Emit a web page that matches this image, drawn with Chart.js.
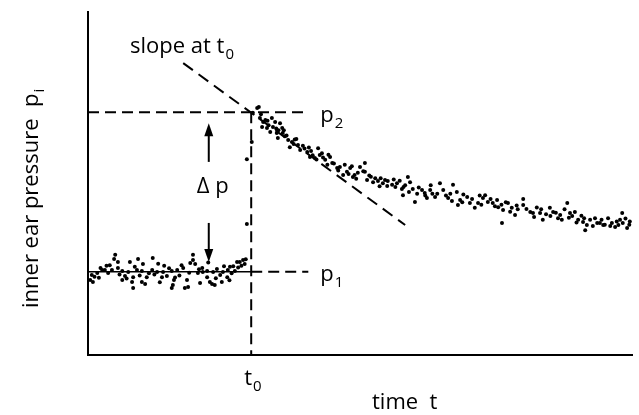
<!DOCTYPE html>
<html lang="en">
<head>
<meta charset="UTF-8" />
<title>Inner ear pressure</title>
<script src="https://cdn.jsdelivr.net/npm/chart.js"></script>
<style>
  html, body { margin: 0; padding: 0; background: #fff; }
  #wrap { width: 639px; height: 415px; }
</style>
</head>
<body>
<div id="wrap"><canvas id="chart" width="639" height="415"></canvas></div>
<script>
// baseline before the step (time, pressure), arbitrary units
const baseT = [0.4, 0.7, 0.9, 1.7, 2.0, 2.6, 3.1, 3.4, 3.7, 4.4, 4.8, 5.0, 5.5, 5.5, 6.3, 6.3, 6.8, 7.4, 7.7, 8.1,
  8.3, 8.3, 9.0, 9.2, 9.9, 9.9, 10.1, 10.5, 10.8, 11.8, 11.9, 12.2, 12.7, 13.6, 13.8, 14.0, 14.5, 15.4, 15.4, 15.6,
  15.8, 16.4, 16.8, 17.5, 17.8, 18.2, 18.4, 18.8, 19.3, 19.3, 19.7, 20.2, 20.6, 21.0, 21.1, 21.9, 21.9, 22.4, 22.8, 23.0,
  23.3, 23.7, 24.3, 24.6, 24.8, 25.6, 25.7, 26.1, 26.4, 26.7, 27.4, 27.9, 28.2, 28.5, 29.0,
  1.2, 2.3, 4.0, 5.8, 7.1, 8.6, 9.5, 11.2, 12.9, 13.2, 14.9, 16.0, 17.2, 18.6, 20.4, 22.1, 23.5, 25.0, 26.0, 27.0,
  27.6, 28.8];
const baseP = [21.9, 23.3, 21.3, 23.9, 22.5, 24.8, 24.8, 26.0, 23.9, 24.8, 28.0, 29.2, 27.1, 25.4, 24.5, 21.9, 23.0, 24.2, 27.1, 21.3,
  22.7, 19.5, 24.8, 28.0, 24.5, 21.3, 26.5, 20.7, 22.7, 24.8, 28.3, 23.5, 24.2, 22.7, 24.2, 26.0, 23.0, 19.5, 24.5, 20.4,
  21.9, 24.8, 23.2, 25.4, 19.5, 21.9, 19.8, 26.8, 29.2, 27.7, 26.5, 23.9, 21.0, 25.4, 24.2, 24.5, 22.7, 21.3, 20.7, 24.2,
  20.4, 25.1, 23.3, 21.3, 24.2, 22.7, 24.8, 25.7, 23.8, 25.9, 27.1, 27.1, 26.0, 27.7, 27.9,
  22.8, 25.4, 26.2, 23.5, 22.3, 25.7, 23.2, 23.8, 26.6, 21.2, 25.3, 22.6, 26.2, 24.0, 25.0, 27.0, 22.4, 25.9, 21.8, 24.5,
  25.5, 26.5];

// the few samples caught during the step
const jumpT = [29.2, 29.2, 30.1];
const jumpP = [38.2, 57.1, 62.1];

// decay after the step
const decayT = [31.1, 31.4, 30.3, 31.6, 32.2, 32.0, 32.9, 33.8, 34.4, 34.0, 35.3, 35.7, 33.5, 34.7, 35.8, 34.9, 36.8, 37.5, 37.1, 38.6,
  39.0, 40.3, 40.8, 42.3, 42.6, 41.7, 43.6, 44.5, 44.9, 45.8, 46.3, 46.9, 47.6, 48.2, 48.7, 49.6, 50.0, 50.9, 51.3, 50.9,
  50.6, 52.4, 53.3, 54.2, 55.1, 55.9, 55.0, 56.8, 58.8, 59.2, 57.7, 57.9, 59.7, 61.4, 61.9, 62.9, 60.1, 62.3, 63.8, 64.7,
  65.3, 66.2, 67.1, 67.8, 68.4, 68.0, 69.7, 70.2, 71.1, 71.7, 72.6, 73.5, 74.4, 75.2, 75.4, 76.3, 77.2, 77.9, 78.5, 76.1,
  80.0, 80.0, 81.3, 81.8, 83.1, 83.6, 84.9, 85.5, 86.4, 87.1, 88.1, 88.6, 89.5, 90.1, 91.0, 91.7, 91.4, 92.3, 93.2, 94.1,
  94.7, 95.6, 96.3, 96.9, 97.8, 98.2, 98.3, 99.1,
  32.6, 33.2, 36.2, 36.0, 38.0, 39.5, 41.0, 43.0, 44.0, 47.2, 49.0, 52.0, 53.8, 56.2, 58.3, 60.5, 63.3, 66.6, 69.0, 72.0,
  74.0, 76.8, 79.0, 82.5, 84.2, 86.0, 87.6, 89.0, 90.7, 93.6, 95.0, 97.2, 99.5,
  31.8, 33.0, 34.6, 35.0, 36.5, 37.8, 38.3, 39.8, 40.6, 41.3, 42.0, 43.2, 44.2, 45.2, 46.0, 47.9, 48.5, 49.3, 51.7, 52.8,
  53.6, 54.6, 56.5, 57.3, 58.0, 59.0, 60.8, 62.0, 63.0, 64.2, 65.8, 66.9, 68.8, 70.6, 72.3, 73.0, 74.8, 76.0, 77.6, 78.8,
  80.6, 82.0, 83.3, 85.0, 86.8, 88.4, 89.8, 91.2, 92.8, 94.4, 96.0, 97.5, 98.8, 99.6];
const decayP = [72.0, 72.3, 70.6, 69.1, 67.9, 66.5, 66.2, 69.1, 67.9, 66.5, 67.6, 66.2, 65.0, 64.7, 64.7, 63.3, 62.7, 62.1, 60.6, 61.2,
  59.8, 59.2, 57.7, 60.3, 58.3, 57.4, 56.9, 57.7, 56.0, 54.5, 54.8, 52.5, 53.4, 54.5, 51.9, 53.1, 54.8, 53.4, 51.0, 56.0,
  53.6, 50.4, 50.7, 50.1, 50.7, 49.6, 49.3, 50.1, 51.9, 50.4, 48.4, 46.6, 48.4, 48.1, 47.2, 48.1, 44.6, 45.8, 46.1, 50.1,
  48.1, 45.8, 49.6, 47.5, 45.2, 43.7, 46.1, 44.3, 42.9, 44.3, 45.8, 44.6, 44.3, 45.2, 43.1, 42.3, 44.3, 42.9, 40.8, 38.5,
  45.5, 43.7, 41.7, 41.4, 41.4, 39.4, 42.9, 41.7, 39.9, 39.4, 44.3, 41.4, 41.7, 39.4, 38.8, 37.9, 36.4, 39.4, 39.9, 38.5,
  37.9, 39.9, 38.5, 37.3, 39.4, 41.4, 38.5, 37.0,
  68.5, 67.0, 63.8, 65.5, 62.8, 61.0, 59.5, 58.8, 55.5, 55.5, 52.5, 52.0, 51.5, 51.2, 49.5, 47.0, 47.0, 47.0, 46.8, 46.5,
  45.5, 44.5, 42.5, 43.0, 41.0, 41.5, 42.5, 40.5, 40.6, 38.5, 38.0, 38.9, 38.0,
  70.2, 68.3, 66.0, 65.5, 64.0, 61.5, 63.0, 60.2, 60.5, 58.2, 57.0, 57.6, 58.4, 55.8, 53.8, 52.8, 55.0, 51.4, 52.3, 51.5,
  49.2, 51.0, 49.0, 50.8, 49.0, 47.5, 48.8, 46.5, 49.5, 47.0, 46.5, 44.9, 44.5, 45.5, 43.8, 46.6, 43.4, 43.8, 41.8, 43.6,
  42.6, 40.2, 42.5, 40.5, 40.8, 40.0, 38.6, 39.9, 37.6, 39.4, 37.6, 37.9, 39.8, 38.9];

// reference levels and the tangent at t0
const t0 = 30;
const p1 = 24.3;
const p2 = 70.8;
const levelEnd = 40.5;
const slopeT = [17.5, 58.3];
const slopeP = [85.1, 37.9];
const arrowT = 22.2;
const upArrowP = [56.3, 67.6];
const downArrowP = [38.5, 27.1];

const pts = (xs, ys) => xs.map((x, i) => ({ x: x, y: ys[i] }));
const FONT = '"Open Sans", "Noto Sans", sans-serif';

const dashed = (data, dash) => ({
  data: data,
  showLine: true,
  borderColor: "#000",
  borderWidth: 2,
  borderDash: dash,
  pointRadius: 0,
  fill: false,
  clip: false,
});
const dots = (data) => ({
  data: data,
  pointRadius: 2,
  pointBackgroundColor: "#000",
  pointBorderWidth: 0,
  showLine: false,
});

function label(ctx, x, y, main, sub, size) {
  ctx.font = size + "px " + FONT;
  ctx.fillText(main, x, y);
  if (sub) {
    const w = ctx.measureText(main).width;
    ctx.font = Math.round(size * 0.68) + "px " + FONT;
    ctx.fillText(sub, x + w + 1, y + 6);
  }
}

function arrow(ctx, x, yFrom, yTo) {
  const dir = yTo < yFrom ? -1 : 1;
  ctx.beginPath();
  ctx.moveTo(x, yFrom);
  ctx.lineTo(x, yTo - dir * 11);
  ctx.stroke();
  ctx.beginPath();
  ctx.moveTo(x, yTo);
  ctx.lineTo(x - 4.5, yTo - dir * 13);
  ctx.lineTo(x + 4.5, yTo - dir * 13);
  ctx.closePath();
  ctx.fill();
}

const annotations = {
  id: "annotations",
  afterDatasetsDraw(chart) {
    const ctx = chart.ctx;
    const xs = chart.scales.x;
    const ys = chart.scales.y;
    const area = chart.chartArea;
    ctx.save();
    ctx.fillStyle = "#000";
    ctx.strokeStyle = "#000";
    ctx.lineWidth = 2;
    ctx.textBaseline = "alphabetic";
    ctx.textAlign = "left";

    arrow(ctx, xs.getPixelForValue(arrowT), ys.getPixelForValue(upArrowP[0]), ys.getPixelForValue(upArrowP[1]));
    arrow(ctx, xs.getPixelForValue(arrowT), ys.getPixelForValue(downArrowP[0]), ys.getPixelForValue(downArrowP[1]));

    const endX = xs.getPixelForValue(levelEnd);
    label(ctx, 130, 53, "slope at t", "0", 22);
    label(ctx, endX + 12, ys.getPixelForValue(p2) + 10, "p", "2", 22);
    label(ctx, endX + 12, ys.getPixelForValue(p1) + 9, "p", "1", 22);
    ctx.font = "22px " + FONT;
    ctx.fillText("\u0394 p", xs.getPixelForValue(arrowT) - 12, 193);
    label(ctx, xs.getPixelForValue(t0) - 7, area.bottom + 30, "t", "0", 22);
    ctx.font = "22px " + FONT;
    ctx.fillText("time  t", 372, 409);

    ctx.translate(38, 308);
    ctx.rotate(-Math.PI / 2);
    label(ctx, 0, 0, "inner ear pressure  p", "i", 22);
    ctx.restore();
  },
};

new Chart(document.getElementById("chart").getContext("2d"), {
  type: "scatter",
  data: {
    datasets: [
      dashed([{ x: 0, y: p2 }, { x: levelEnd, y: p2 }], [11, 6]),
      dashed([{ x: t0, y: p1 }, { x: levelEnd, y: p1 }], [11, 6]),
      dashed([{ x: t0, y: p2 }, { x: t0, y: 0 }], [11, 6]),
      dashed(pts(slopeT, slopeP), [12, 7]),
      Object.assign(dashed([{ x: 0, y: p1 }, { x: t0, y: p1 }], []), { borderWidth: 1.5 }),
      dots(pts(baseT, baseP)),
      dots(pts(jumpT, jumpP)),
      dots(pts(decayT, decayP)),
    ],
  },
  options: {
    responsive: false,
    animation: false,
    events: [],
    layout: { padding: { left: 88, right: 7, top: 12, bottom: 60 } },
    plugins: { legend: { display: false }, tooltip: { enabled: false } },
    scales: {
      x: {
        type: "linear",
        min: 0,
        max: 100,
        ticks: { display: false },
        grid: { display: false, drawTicks: false },
        border: { display: true, color: "#000", width: 2 },
      },
      y: {
        type: "linear",
        min: 0,
        max: 100,
        ticks: { display: false },
        grid: { display: false, drawTicks: false },
        border: { display: true, color: "#000", width: 2 },
      },
    },
  },
  plugins: [annotations],
});
</script>
</body>
</html>
